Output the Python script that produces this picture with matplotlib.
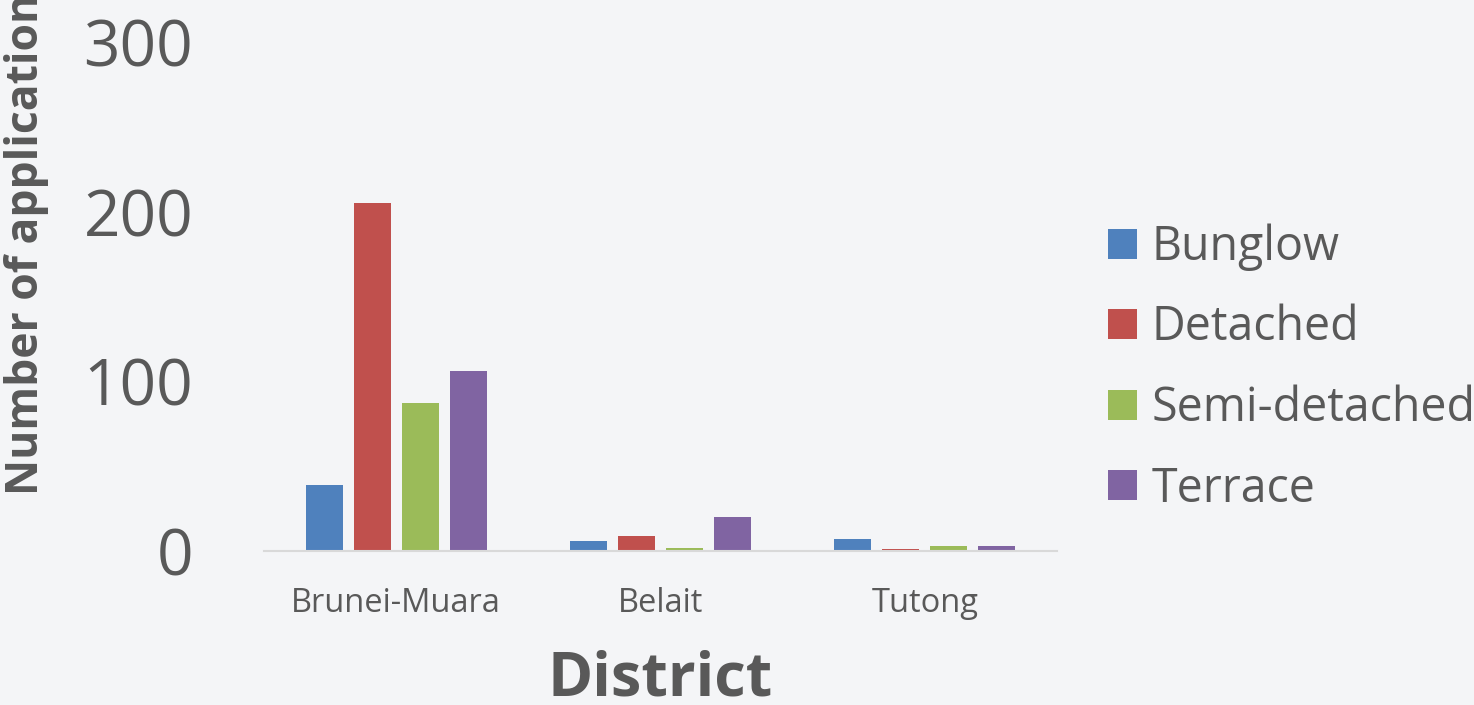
import matplotlib.pyplot as plt
import numpy as np

districts = ["Brunei-Muara", "Belait", "Tutong"]
types = ["Bunglow", "Detached", "Semi-detached", "Terrace"]
bunglow = [39, 6, 7]
detached = [205, 9, 1]
semi_detached = [87, 2, 3]
terrace = [106, 20, 3]
yticks = [0, 100, 200, 300]

colors = ["#4f81bd", "#c0504d", "#9bbb59", "#8064a2"]
bg = "#f4f5f7"
txt = "#595959"

plt.rcParams['font.family'] = ['Open Sans', 'DejaVu Sans']

fig = plt.figure(figsize=(14.74, 7.05), dpi=100, facecolor=bg)
ax = fig.add_axes([264/1474, 154/705, (1057-264)/1474, (551-42)/705])
ax.set_facecolor(bg)

x = np.arange(len(districts))
step = 0.1816
width = 0.14
series = [bunglow, detached, semi_detached, terrace]
for i, (name, vals) in enumerate(zip(types, series)):
    ax.bar(x + (i - 1.5) * step, vals, width, color=colors[i], label=name,
           linewidth=0)

ax.set_xlim(-0.5, 2.5)
ax.set_ylim(0, 300)
ax.set_yticks(yticks)
ax.set_xticks(x)
ax.set_xticklabels(districts)
ax.tick_params(axis='y', length=0, pad=51, labelsize=46, labelcolor=txt)
ax.tick_params(axis='x', length=0, pad=26, labelsize=23.5, labelcolor=txt)
for s in ["top", "right", "left"]:
    ax.spines[s].set_visible(False)
ax.spines["bottom"].set_color("#d9d9d9")
ax.spines["bottom"].set_linewidth(1.5)

fig.text(660/1474, 10/705, "District", ha="center", va="baseline",
         fontsize=44, fontweight="bold", color=txt)
fig.text(27/1474, 210/705, "Number of applications", rotation=90,
         ha="center", va="bottom", fontsize=32, fontweight="bold", color=txt)

ax.legend(loc="center left", bbox_to_anchor=(1108/1474, 0.478),
          bbox_transform=fig.transFigure, frameon=False, fontsize=33.5,
          handlelength=0.62, handleheight=0.62, handletextpad=0.32,
          labelspacing=0.71, borderpad=0, borderaxespad=0, labelcolor=txt)

fig.savefig("out.png", dpi=100, facecolor=bg)
